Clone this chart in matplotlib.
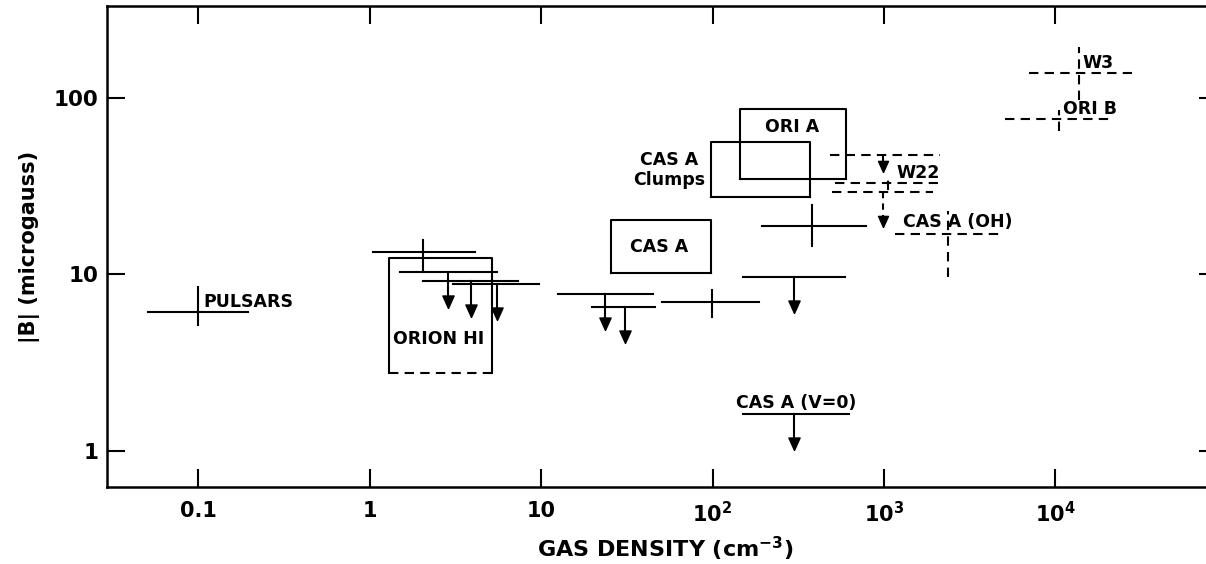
import numpy as np
import matplotlib
matplotlib.use('Agg')
import matplotlib.pyplot as plt

plt.rcParams['font.family'] = ['DejaVu Sans']
plt.rcParams['font.weight'] = 'bold'

# detections: centre, x range, y range (solid crosses)
cross_x = [0.1, 2.05, 99, 380]
cross_y = [6.1, 13.4, 7.0, 18.8]
cross_xlo = [0.051, 1.05, 51, 195]
cross_xhi = [0.195, 4.1, 187, 785]
cross_ylo = [5.17, 10.3, 5.74, 14.5]
cross_yhi = [8.5, 15.7, 8.17, 24.8]

# dashed crosses: W3, ORI B, W22, CAS A (OH)
dcross_x = [13700, 10500, 1055, 2360]
dcross_y = [139, 76, 33, 17]
dcross_xlo = [7000, 5080, 518, 1160]
dcross_xhi = [27900, 21400, 2070, 4740]
dcross_ylo = [97.5, 65, 30.1, 9.68]
dcross_yhi = [194, 85.5, 36.1, 22.9]

# upper limits (solid)
ul_y = [10.3, 9.2, 8.84, 7.76, 6.55, 9.68, 1.62]
ul_xlo = [1.5, 2.05, 3.07, 12.6, 19.8, 150, 150]
ul_xhi = [5.5, 7.35, 9.7, 45, 46, 593, 625]
ul_xarrow = [2.87, 3.9, 5.5, 23.6, 30.9, 299, 299]

# upper limits (dashed, W22)
dul_y = [47.5, 29.3]
dul_xlo = [484, 497]
dul_xhi = [2120, 1930]
dul_xarrow = [986, 986]

# boxes: ORION HI, CAS A, CAS A clumps, ORI A
box_x0 = [1.30, 25.6, 98, 144.5]
box_x1 = [5.18, 98, 371, 600]
box_y0 = [2.77, 10.2, 27.5, 34.8]
box_y1 = [12.4, 20.4, 56.3, 86.7]

xticks = [0.1, 1, 10, 100, 1000, 10000]
xticklabels = ['0.1', '1', '10', r'$\mathbf{10^2}$', r'$\mathbf{10^3}$', r'$\mathbf{10^4}$']
yticks = [1, 10, 100]
yticklabels = ['1', '10', '100']

lw = 1.5
dash = (0, (4.5, 3))
head = [(0, 0), (-0.45, 1), (0.45, 1), (0, 0)]
drop = 0.205
dul_drop = [0.095, 0.2]

fig = plt.figure(figsize=(12.06, 5.64), dpi=100)
ax = fig.add_axes([0.0887, 0.1365, 0.9204, 0.8528])
ax.set_xscale('log')
ax.set_yscale('log')
ax.set_xlim(0.0294, 87500)
ax.set_ylim(0.625, 332)

for i in range(len(cross_x)):
    ax.plot([cross_xlo[i], cross_xhi[i]], [cross_y[i], cross_y[i]], color='k', lw=lw)
    ax.plot([cross_x[i], cross_x[i]], [cross_ylo[i], cross_yhi[i]], color='k', lw=lw)

for i in range(len(dcross_x)):
    ax.plot([dcross_xlo[i], dcross_xhi[i]], [dcross_y[i], dcross_y[i]], color='k', lw=lw, ls=dash)
    ax.plot([dcross_x[i], dcross_x[i]], [dcross_ylo[i], dcross_yhi[i]], color='k', lw=lw, ls=dash)

for i in range(len(ul_y)):
    tip = ul_y[i] * 10 ** (-drop)
    ax.plot([ul_xlo[i], ul_xhi[i]], [ul_y[i], ul_y[i]], color='k', lw=lw)
    ax.plot([ul_xarrow[i], ul_xarrow[i]], [ul_y[i], tip * 1.05], color='k', lw=lw)
    ax.plot(ul_xarrow[i], tip, marker=head, ms=18, color='k', ls='none')

for i in range(len(dul_y)):
    tip = dul_y[i] * 10 ** (-dul_drop[i])
    ax.plot([dul_xlo[i], dul_xhi[i]], [dul_y[i], dul_y[i]], color='k', lw=lw, ls=dash)
    ax.plot([dul_xarrow[i], dul_xarrow[i]], [dul_y[i], tip * 1.05], color='k', lw=lw, ls=(0, (3, 2.5)))
    ax.plot(dul_xarrow[i], tip, marker=head, ms=16, color='k', ls='none')

for i in range(len(box_x0)):
    x0, x1, y0, y1 = box_x0[i], box_x1[i], box_y0[i], box_y1[i]
    ax.plot([x0, x0, x1, x1], [y0, y1, y1, y0], color='k', lw=lw)
    if i == 0:
        ax.plot([x0, x1], [y0, y0], color='k', lw=lw, ls=dash)
    else:
        ax.plot([x0, x1], [y0, y0], color='k', lw=lw)

fs = 12.5
ax.text(0.107, 6.98, 'PULSARS', fontsize=fs, ha='left', va='center')
ax.text(2.54, 4.31, 'ORION HI', fontsize=fs, ha='center', va='center')
ax.text(90.4, 39.1, 'CAS A\nClumps', fontsize=fs, ha='right', va='center',
        multialignment='center', linespacing=1.15)
ax.text(48.8, 14.3, 'CAS A', fontsize=fs, ha='center', va='center')
ax.text(291, 68.5, 'ORI A', fontsize=fs, ha='center', va='center')
ax.text(14450, 158, 'W3', fontsize=fs, ha='left', va='center')
ax.text(11070, 86.7, 'ORI B', fontsize=fs, ha='left', va='center')
ax.text(1190, 37.6, 'W22', fontsize=fs, ha='left', va='center')
ax.text(1290, 19.8, 'CAS A (OH)', fontsize=fs, ha='left', va='center')
ax.text(307, 1.87, 'CAS A (V=0)', fontsize=fs, ha='center', va='center')

ax.set_xticks(xticks)
ax.set_xticklabels(xticklabels)
ax.set_yticks(yticks)
ax.set_yticklabels(yticklabels)
ax.minorticks_off()
ax.tick_params(axis='x', which='major', direction='in', top=True, bottom=True,
               length=13, width=1.5, labelsize=15, pad=10)
ax.tick_params(axis='y', which='major', direction='in', left=True, right=True,
               length=13, width=1.5, labelsize=15.5, pad=6)
for s in ax.spines.values():
    s.set_linewidth(1.8)

ax.set_xlabel(r'GAS DENSITY (cm$^{\mathbf{-3}}$)', fontsize=16, fontweight='bold')
ax.xaxis.set_label_coords(0.503, -0.1)
ax.set_ylabel('|B| (microgauss)', fontsize=15, fontweight='bold', labelpad=10)

fig.savefig('out.png', dpi=100)
